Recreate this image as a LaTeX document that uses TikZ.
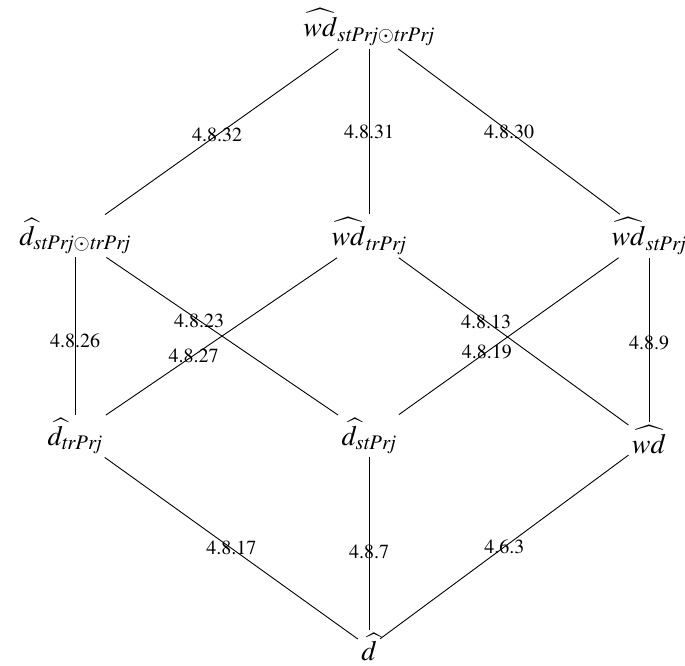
\documentclass[tikz,border=0pt]{standalone}
\usepackage[T1]{fontenc}
\usepackage{mathptmx}

\begin{document}
\begin{tikzpicture}
            [x=1pt,y=-1pt,line width=0.9pt, main/.style = {inner sep=3pt, font=\fontsize{28}{32}\selectfont}, lbl/.style = {inner sep=0pt, font=\fontsize{20}{24}\selectfont}]
            \useasboundingbox (0,0) rectangle (685,666);
            \node[main] (wdSP) at (369,27) {$\widehat{wd}_{\mathit{stPrj}\odot\mathit{trPrj}}$};
            \node[main] (dSP) at (75,236) {$\widehat{d}_{\mathit{stPrj}\odot\mathit{trPrj}}$};
            \node[main] (wdTr) at (369,236) {$\widehat{wd}_{\mathit{trPrj}}$};
            \node[main] (wdSt) at (649,236) {$\widehat{wd}_{\mathit{stPrj}}$};
            \node[main] (dTr) at (75,436) {$\widehat{d}_{\mathit{trPrj}}$};
            \node[main] (dSt) at (369,436) {$\widehat{d}_{\mathit{stPrj}}$};
            \node[main] (wd) at (649,440) {$\widehat{wd}$};
            \node[main] (d) at (369,647) {$\widehat{d}$};

            \path[-] (wdSP) edge node[lbl,pos=0.52] {4.8.32} (dSP);
            \path[-] (wdSP) edge node[lbl,pos=0.5] {4.8.31} (wdTr);
            \path[-] (wdSP) edge node[lbl,pos=0.5] {4.8.30} (wdSt);
            \path[-] (dSP) edge node[lbl,pos=0.53] {4.8.26} (dTr);
            \path[-] (dSP) edge node[lbl,pos=0.4] {4.8.23} (dSt);
            \path[-] (wdTr) edge node[lbl,pos=0.62] {4.8.27} (dTr);
            \path[-] (wdTr) edge node[lbl,pos=0.38] {4.8.13} (wd);
            \path[-] (wdSt) edge node[lbl,pos=0.6] {4.8.19} (dSt);
            \path[-] (wdSt) edge node[lbl,pos=0.52] {4.8.9} (wd);
            \path[-] (dTr) edge node[lbl,pos=0.5] {4.8.17} (d);
            \path[-] (dSt) edge node[lbl,pos=0.55] {4.8.7} (d);
            \path[-] (wd) edge node[lbl,pos=0.5] {4.6.3} (d);
        \end{tikzpicture}
\end{document}
